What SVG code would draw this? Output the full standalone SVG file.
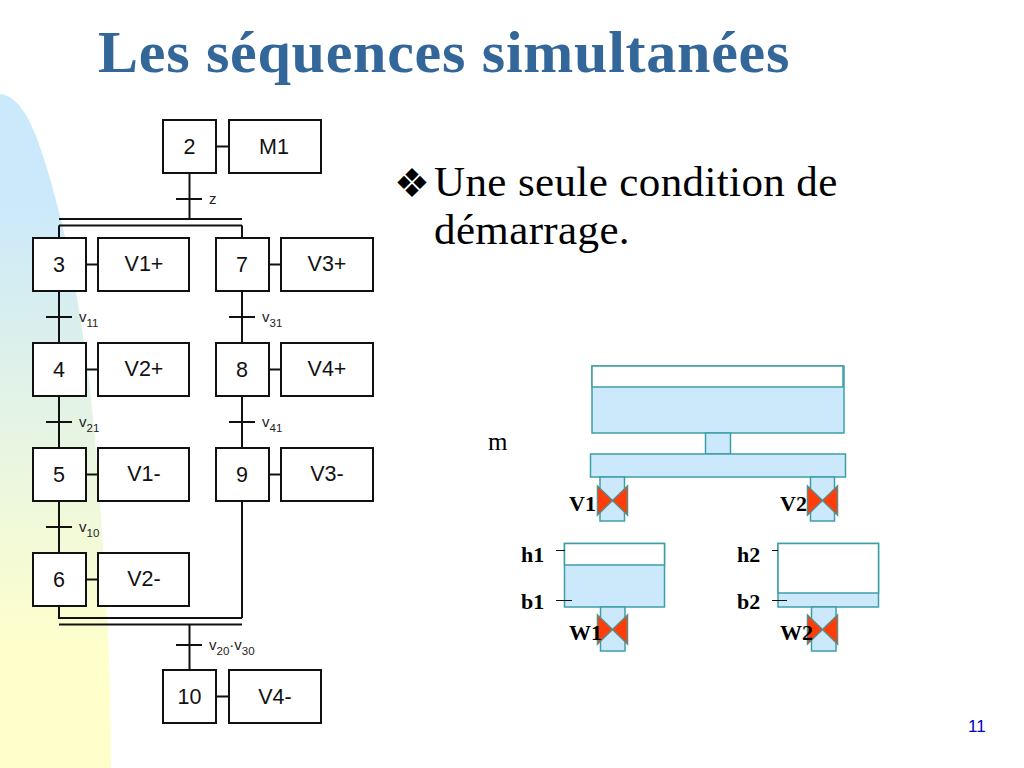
<svg xmlns="http://www.w3.org/2000/svg" width="1024" height="768" viewBox="0 0 1024 768">
<style>
.b{fill:#fff;stroke:#111;stroke-width:2}
.l{stroke:#111;stroke-width:2;fill:none}
.t{font-family:"Liberation Sans",Arial,sans-serif;font-size:21.500px;fill:#111;text-anchor:middle}
.c{font-family:"Liberation Sans",Arial,sans-serif;font-size:15px;fill:#222}
.s{font-size:11.500px}
.w{fill:#cce9fb;stroke:#3d9fa6;stroke-width:1.5}
.e{fill:#fff;stroke:#3d9fa6;stroke-width:1.5}
.v{fill:#ff3c0a;stroke:#5f8a80;stroke-width:1.500}
.k{stroke:#111;stroke-width:1;fill:none}
.m{font-family:"Liberation Serif",serif;font-weight:bold;font-size:22px;fill:#000}
.p{font-family:"Liberation Serif",serif;font-size:43px;letter-spacing:.38px;fill:#000}
</style>
<defs>
<linearGradient id="bg" gradientUnits="userSpaceOnUse" x1="0" y1="200" x2="0" y2="650"><stop offset="0" stop-color="#cbe9fb"/><stop offset="1" stop-color="#ffffcc"/></linearGradient>
<g id="val"><polygon class="v" points="-15,-14.500 0,0 -15,14.500"/><polygon class="v" points="15,-14.500 0,0 15,14.500"/></g>
</defs>
<rect width="1024" height="768" fill="#fff"/>
<path d="M0,94 C22,96 36,130 48,172 C66,232 85,320 95,440 C103,540 111,640 111,768 L0,768 Z" fill="url(#bg)"/>
<text x="98" y="72" font-family="'Liberation Serif',serif" font-weight="bold" font-size="60px" letter-spacing=".75" fill="#336699">Les séquences simultanées</text>
<text x="394" y="197" font-family="'DejaVu Sans',sans-serif" font-size="40px" fill="#000">❖</text>
<text x="434" y="196" class="p">Une seule condition de</text>
<text x="434" y="244" class="p">démarrage.</text>
<text x="968" y="732" font-family="'Liberation Sans',sans-serif" font-size="17px" fill="#0000cc">11</text>

<g id="connectors">
<path class="l" d="M189.500,173V219M59,219H242M59,225.500H242M59,225.500V238M242,225.500V238"/>
<path class="l" d="M176,199H202"/>
<path class="l" d="M59,291V343M59,396V448M59,501V553M242,291V343M242,396V448M242,501V618"/>
<path class="l" d="M46,317H72M46,422H72M46,527H72M229,317H255M229,422H255"/>
<path class="l" d="M59,606V618H242M59,624.500H242M189.500,624.500V670M176,645H202"/>
<path class="l" d="M216,146.500H229M86,264.500H98M269,264.500H281M86,369.500H98M269,369.500H281M86,474.500H98M269,474.500H281M86,579.500H98M216,696.500H229"/>
</g>

<g id="step2"><rect class="b" x="163" y="120" width="53" height="53"/><text class="t" x="189.500" y="154">2</text></g>
<g id="actionM1"><rect class="b" x="229" y="120" width="92" height="53"/><text class="t" x="274" y="154">M1</text></g>
<g id="step3"><rect class="b" x="33" y="238" width="53" height="53"/><text class="t" x="59" y="272">3</text></g>
<g id="action3"><rect class="b" x="98" y="238" width="91" height="53"/><text class="t" x="144" y="271">V1+</text></g>
<g id="step7"><rect class="b" x="216" y="238" width="53" height="53"/><text class="t" x="242" y="272">7</text></g>
<g id="action7"><rect class="b" x="281" y="238" width="92" height="53"/><text class="t" x="327" y="271">V3+</text></g>
<g id="step4"><rect class="b" x="33" y="343" width="53" height="53"/><text class="t" x="59" y="377">4</text></g>
<g id="action4"><rect class="b" x="98" y="343" width="91" height="53"/><text class="t" x="144" y="376">V2+</text></g>
<g id="step8"><rect class="b" x="216" y="343" width="53" height="53"/><text class="t" x="242" y="377">8</text></g>
<g id="action8"><rect class="b" x="281" y="343" width="92" height="53"/><text class="t" x="327" y="376">V4+</text></g>
<g id="step5"><rect class="b" x="33" y="448" width="53" height="53"/><text class="t" x="59" y="482">5</text></g>
<g id="action5"><rect class="b" x="98" y="448" width="91" height="53"/><text class="t" x="144" y="481">V1-</text></g>
<g id="step9"><rect class="b" x="216" y="448" width="53" height="53"/><text class="t" x="242" y="482">9</text></g>
<g id="action9"><rect class="b" x="281" y="448" width="92" height="53"/><text class="t" x="327" y="481">V3-</text></g>
<g id="step6"><rect class="b" x="33" y="553" width="53" height="53"/><text class="t" x="59" y="587">6</text></g>
<g id="action6"><rect class="b" x="98" y="553" width="91" height="53"/><text class="t" x="144" y="586">V2-</text></g>
<g id="step10"><rect class="b" x="163" y="670" width="53" height="53"/><text class="t" x="189.500" y="704">10</text></g>
<g id="action10"><rect class="b" x="229" y="670" width="92" height="53"/><text class="t" x="275" y="704">V4-</text></g>

<g id="conds">
<text class="c" x="209" y="204">z</text>
<text class="c" x="79" y="322">v<tspan class="s" dy="5">11</tspan></text>
<text class="c" x="79" y="427">v<tspan class="s" dy="5">21</tspan></text>
<text class="c" x="79" y="532">v<tspan class="s" dy="5">10</tspan></text>
<text class="c" x="262" y="322">v<tspan class="s" dy="5">31</tspan></text>
<text class="c" x="262" y="427">v<tspan class="s" dy="5">41</tspan></text>
<text class="c" x="209" y="650">v<tspan class="s" dy="5">20</tspan><tspan dy="-5">·v</tspan><tspan class="s" dy="5">30</tspan></text>
</g>

<g id="tank-top">
<rect class="w" x="592" y="366" width="252" height="67"/>
<rect class="e" x="592" y="366" width="251" height="21"/>
<rect class="w" x="705.500" y="433" width="25" height="21"/>
<rect class="w" x="590.500" y="454" width="255" height="23"/>
<rect class="w" x="600" y="477" width="24.500" height="44"/>
<rect class="w" x="810.500" y="477" width="24" height="44"/>
<use href="#val" x="612.500" y="500.500"/>
<use href="#val" x="822.500" y="500.500"/>
</g>
<g id="tank1">
<rect class="w" x="564.500" y="543.500" width="100" height="63.500"/>
<rect class="e" x="564.500" y="543.500" width="100" height="21.500"/>
<rect class="w" x="600.500" y="607" width="24.500" height="44"/>
<use href="#val" x="612.500" y="629.500"/>
</g>
<g id="tank2">
<rect class="w" x="778" y="543.500" width="100.500" height="63.500"/>
<rect class="e" x="778" y="543.500" width="100.500" height="49.500"/>
<rect class="w" x="811.500" y="607" width="24.500" height="44"/>
<use href="#val" x="822.500" y="629.500"/>
</g>
<path class="k" d="M556,550.500H565M556,600.500H572M772,550.500H778M772,600.500H787"/>
<g id="labels">
<text x="488" y="450" font-family="'Liberation Serif',serif" font-size="25px" fill="#000">m</text>
<text class="m" x="569" y="511">V1</text>
<text class="m" x="780" y="511">V2</text>
<text class="m" x="521" y="562">h1</text>
<text class="m" x="737" y="562">h2</text>
<text class="m" x="521" y="609">b1</text>
<text class="m" x="737" y="609">b2</text>
<text class="m" x="569" y="640">W1</text>
<text class="m" x="780" y="640">W2</text>
</g>
</svg>
